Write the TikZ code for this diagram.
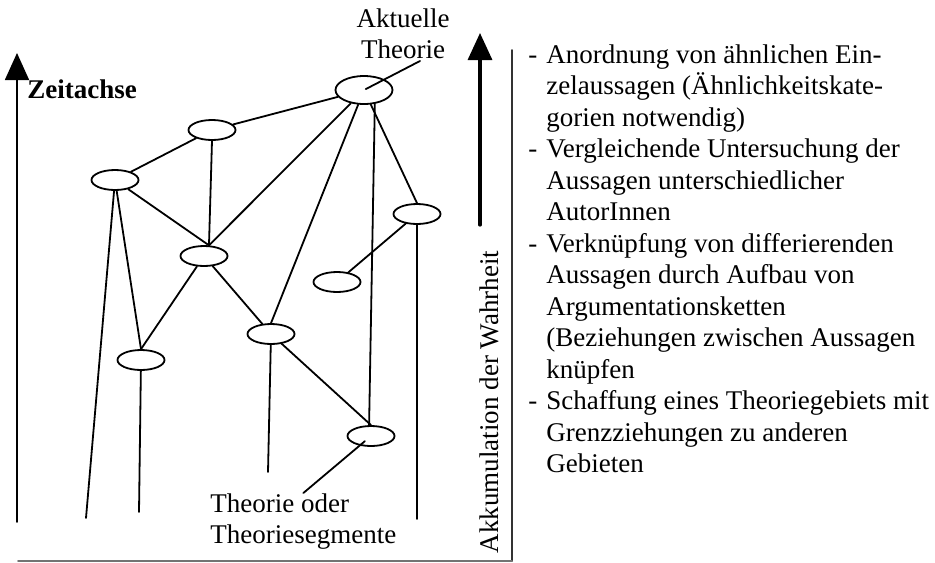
\documentclass[tikz,border=0pt]{standalone}
\usepackage{fontspec}
\setmainfont{Liberation Serif}
\usetikzlibrary{arrows.meta,shapes.geometric}
\tikzset{
  seg/.style={draw,ellipse,line width=0.9pt,minimum width=23.5pt,minimum height=10pt,inner sep=0pt},
  link/.style={line width=0.9pt},
  axisarrow/.style={-{Triangle[length=13.5pt,width=12pt]}},
}
\begin{document}
\begin{tikzpicture}[x=0.5pt,y=-0.5pt,line cap=round,line join=round,
  font=\fontsize{13.5}{15.75}\selectfont]
  \useasboundingbox (0,0) rectangle (935,562);
  % theory segments
  \node[seg,minimum width=28.5pt,minimum height=14pt] (e1) at (364,90) {};
  \node[seg] (e2) at (212,130) {};
  \node[seg] (e3) at (115,180) {};
  \node[seg] (e4) at (204,256) {};
  \node[seg] (e5) at (417,214) {};
  \node[seg] (e6) at (337,282) {};
  \node[seg] (e7) at (141,360) {};
  \node[seg] (e8) at (271,334) {};
  \node[seg] (e9) at (371,436) {};
  \coordinate (f3) at (86,518);
  \coordinate (f5) at (417,519);
  \coordinate (f7) at (139,512);
  \coordinate (f8) at (268,472);
  % links
  \draw[link] (e1) -- (e2);
  \draw[link] (e2) -- (e3);
  \draw[link] (e2.south) -- (e4.65);
  \draw[link] (e1) -- (e4.65);
  \draw[link] (e3) -- (e4.65);
  \draw[link] (e1) -- (e8.north);
  \draw[link] (e1.308) -- (e9.100);
  \draw[link] (e1) -- (e5.north);
  \draw[link] (e5) -- (e6);
  \draw[link] (e5) -- (f5);
  \draw[link] (e3) -- (f3);
  \draw[link] (e3) -- (e7.north);
  \draw[link] (e4) -- (e7.north);
  \draw[link] (e4) -- (e8);
  \draw[link] (e7) -- (f7);
  \draw[link] (e8) -- (f8);
  \draw[link] (e8) -- (e9.north);
  % labels
  \node[align=center] (akt) at (403,34) {Aktuelle\\Theorie};
  \coordinate (aktpin) at (420,61);
  \node[anchor=north west,align=left,inner sep=0pt] (seglabel) at (210,493)
    {Theorie oder\\Theoriesegmente};
  \draw[link,shorten <=1pt] (e1.center) -- (aktpin);
  \draw[link,shorten <=4pt] (e9.center) -- (seglabel.north);
  % axes
  \coordinate (zbot) at (17,522);
  \coordinate (ztop) at (17,53);
  \draw[axisarrow,line width=0.8pt] (zbot) -- (ztop);
  \node[anchor=base west,inner sep=0pt,font=\fontsize{13.5}{15.75}\selectfont\bfseries] (zeit) at (27,98) {Zeitachse};
  \coordinate (wbot) at (480,225);
  \coordinate (wtop) at (480,33);
  \draw[axisarrow,line width=1.6pt] (wbot) -- (wtop);
  \node[rotate=90] (akk) at (489,402) {Akkumulation der Wahrheit};
  \coordinate (vtop) at (512,50);
  \coordinate (vbot) at (512,561);
  \coordinate (hleft) at (18,561);
  \draw[line width=0.8pt,black!80] (vtop) -- (vbot);
  \draw[line width=0.8pt,black!55] (hleft) -- (vbot);
  % list of steps
  \node[anchor=north west,inner sep=0pt] (steps) at (528,41) {%
    \begin{tabular}{@{}p{9pt}@{}l@{}}
    - & Anordnung von ähnlichen Ein-\\
      & zelaussagen (Ähnlichkeitskate-\\
      & gorien notwendig)\\
    - & Vergleichende Untersuchung der\\
      & Aussagen unterschiedlicher\\
      & AutorInnen\\
    - & Verknüpfung von differierenden\\
      & Aussagen durch Aufbau von\\
      & Argumentationsketten\\
      & (Beziehungen zwischen Aussagen\\
      & knüpfen\\
    - & Schaffung eines Theoriegebiets mit\\
      & Grenzziehungen zu anderen\\
      & Gebieten
    \end{tabular}};
\end{tikzpicture}
\end{document}
